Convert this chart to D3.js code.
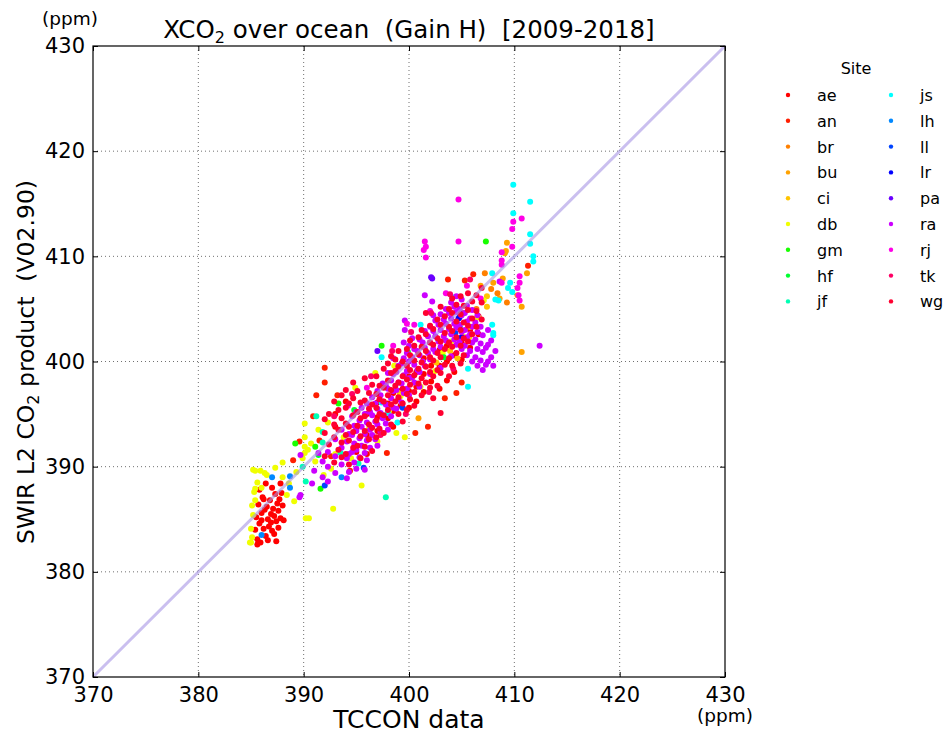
<!DOCTYPE html>
<html>
<head>
<meta charset="utf-8">
<script src="https://cdn.jsdelivr.net/npm/d3@7"></script>
<style>
  body { margin: 0; background: #fff; }
  text { font-family: "DejaVu Sans", sans-serif; fill: #000; }
</style>
</head>
<body>
<div id="chart"></div>
<script>
// site codes and their colours (legend order)
var sites = ["ae", "an", "br", "bu", "ci", "db", "gm", "hf", "jf", "js", "lh", "ll", "lr", "pa", "ra", "rj", "tk", "wg"];
var siteColors = ["#ff0000", "#ff1e00", "#ff8000", "#ffa200", "#ffc400", "#f0ff00", "#18ff00", "#00ff30", "#00ffb4", "#00ffff",
    "#0088ff", "#0044ff", "#0000ff", "#6a00ff", "#cc00ff", "#ff00e6", "#ff0064", "#ff0030"];

var xTicks = [370, 380, 390, 400, 410, 420, 430];
var yTicks = [370, 380, 390, 400, 410, 420, 430];

// [TCCON, SWIR L2] pairs
var ae = [[385.4,384.0],[385.5,385.2],[385.6,383.1],[385.7,386.4],[385.8,384.6],[385.9,382.8],[386.0,385.6],[386.1,387.1],
    [386.2,384.1],[386.3,385.9],[386.4,383.4],[386.5,386.2],[386.6,385.0],[386.7,384.3],[386.8,386.8],[386.9,385.5],
    [387.0,383.9],[387.1,386.0],[387.2,385.3],[387.3,387.4],[387.4,384.8],[387.5,386.5],[387.6,385.8],[387.7,386.9],
    [387.8,385.1],[387.9,387.5],[388.0,386.3],[388.1,384.9],[385.8,387.8],[386.4,388.4],[387.0,388.0],[386.6,383.0],
    [385.6,382.6],[387.4,382.9],[386.2,386.9],[387.8,388.4],[386.9,384.7],[387.2,383.6],[386.0,384.9],[387.6,384.2],
    [395.0,391.4],[395.0,393.6],[396.0,391.2],[396.0,393.0],[396.0,395.0],[397.0,393.4],[397.0,394.7],[397.0,396.1],
    [398.0,394.6],[398.0,396.0],[398.5,393.8],[398.5,395.3],[398.5,397.0],[399.2,395.8],[399.2,397.2],[400.0,395.6],
    [400.0,397.2],[400.0,398.6],[400.7,396.2],[400.7,397.6],[400.7,399.0],[401.4,397.1],[401.4,398.8],[401.4,400.3],
    [402.1,398.1],[402.1,399.6],[402.9,397.4],[402.9,399.6],[402.9,401.1],[403.6,398.2],[403.6,400.0],[403.6,401.5],
    [404.3,399.0],[404.3,400.6],[405.0,400.2],[405.0,401.8],[405.8,401.3],[405.8,403.0],[406.6,402.6],[406.6,404.3],
    [393.0,393.8],[393.0,395.0],[394.0,396.2]];
var an = [[392.0,399.4],[392.0,398.0],[391.2,396.8],[390.9,394.8],[391.5,392.5],[393.2,396.8],[400.6,393.2],[401.8,393.8],
    [397.9,391.3],[403.4,396.5],[404.5,397.0],[405.0,398.0],[403.7,407.8],[405.3,407.7],[406.1,408.3],[411.3,409.1],
    [389.0,390.6],[389.6,392.4],[392.6,391.0],[394.4,389.6]];
var br = [[407.2,408.4],[408.4,406.5],[409.3,405.6],[406.4,405.0],[407.8,406.9],[405.2,404.6]];
var bu = [[409.3,411.3],[409.2,410.5],[409.1,410.3],[410.7,400.9],[410.3,406.3],[410.7,405.2],[408.6,406.0],[411.2,408.4],
    [400.9,394.6],[408.0,407.5],[408.9,407.9],[406.8,407.2]];
var ci = [[407.4,406.2],[407.4,405.2],[406.6,404.2],[404.6,400.3],[402.6,399.9],[405.7,402.3],[403.9,401.0],[399.1,397.0]];
var db = [[385.0,382.8],[385.1,383.3],[385.0,384.1],[385.2,385.4],[385.1,386.3],[385.3,387.6],[385.6,388.5],[385.9,389.6],
    [386.5,389.2],[387.3,389.9],[388.0,389.0],[388.6,388.4],[389.3,389.5],[389.9,390.8],[390.4,391.6],[390.7,392.2],
    [391.1,390.5],[391.9,389.2],[392.6,389.8],[390.2,385.1],[390.5,385.1],[392.8,386.0],[388.4,387.3],[389.1,386.7],
    [391.4,393.5],[392.3,394.2],[393.0,391.2],[393.8,392.8],[394.5,390.8],[395.5,388.2],[396.2,393.6],[397.0,392.4],
    [398.1,395.3],[399.2,396.7],[400.3,398.4],[401.1,397.6],[402.5,399.1],[403.2,400.8],[404.0,401.9],[405.1,402.4],
    [406.3,404.1],[407.1,405.8],[405.8,403.3],[394.9,397.5],[396.8,398.9],[398.6,399.6],[385.4,386.8],[385.2,389.7],
    [386.0,388.0],[390.1,394.1],[390.1,391.9],[390.1,392.8],[390.1,391.3],[388.0,390.4],[385.4,389.6],[386.3,389.4],
    [385.4,387.9],[399.6,392.8],[398.8,393.2],[384.9,382.8]];
var gm = [[407.3,411.4],[389.2,392.2],[391.1,391.9],[391.6,387.9],[393.3,396.0],[397.4,401.5]];
var hf = [[403.3,400.4],[391.4,391.1],[394.8,395.4],[399.9,400.9]];
var jf = [[397.8,387.1],[390.2,388.6],[389.9,390.0],[391.2,394.8],[391.8,393.3],[391.8,392.3],[393.5,391.3],[395.2,390.3]];
var js = [[409.9,416.8],[411.5,415.2],[409.9,414.1],[411.5,412.1],[411.5,411.2],[411.8,410.0],[411.8,409.5],[407.9,408.4],
    [409.6,407.5],[409.4,407.0],[408.5,405.8],[408.2,405.9],[409.8,406.6],[408.0,402.7],[405.6,399.3],[405.6,397.6],
    [401.1,403.5],[404.1,406.1],[407.9,403.5],[408.0,402.5],[397.4,400.4],[397.4,396.1],[398.0,395.1],[398.9,394.2]];
var lh = [[387.0,389.0],[388.7,389.1],[388.7,388.0],[386.0,383.5],[393.6,389.0]];
var ll = [[392.0,388.2],[395.7,389.9],[399.4,395.6],[404.4,402.7]];
var lr = [[404.8,404.2],[404.8,403.3],[405.0,402.3],[404.7,404.1],[404.8,404.7]];
var pa = [[397.0,401.0],[402.1,408.0],[402.2,407.9]];
var ra = [[391.8,389.0],[391.8,390.5],[392.3,388.6],[392.3,390.0],[392.3,391.4],[393.0,389.4],[393.0,391.0],[393.0,392.6],
    [393.6,390.2],[393.6,391.8],[393.6,393.5],[394.1,388.9],[394.1,390.8],[394.1,392.4],[394.1,394.0],[394.6,391.4],
    [394.6,393.0],[394.6,394.8],[395.0,389.8],[395.0,391.6],[395.0,393.4],[395.0,395.2],[395.5,392.0],[395.5,393.8],
    [395.5,395.6],[396.0,390.6],[396.0,392.5],[396.0,394.2],[396.0,396.0],[396.5,393.0],[396.5,394.9],[396.5,396.6],
    [397.0,394.0],[397.0,395.5],[397.0,397.2],[397.0,392.0],[397.5,394.6],[397.5,396.2],[397.5,397.9],[398.0,393.5],
    [398.0,395.8],[398.0,397.4],[398.0,398.9],[398.5,395.6],[398.5,397.2],[398.5,398.8],[398.5,400.3],[399.0,396.4],
    [399.0,398.0],[399.0,399.6],[399.5,397.0],[399.5,398.7],[399.5,400.3],[399.5,401.8],[400.0,396.8],[400.0,398.4],
    [400.0,400.0],[400.0,401.5],[400.5,398.0],[400.5,399.7],[400.5,401.2],[401.0,399.0],[401.0,400.6],[401.0,402.1],
    [401.0,397.6],[401.5,399.6],[401.5,401.3],[401.5,402.9],[402.0,400.2],[402.0,401.8],[402.0,403.3],[402.0,398.8],
    [402.5,400.9],[402.5,402.4],[402.5,403.9],[403.0,401.4],[403.0,403.0],[403.0,404.5],[403.0,399.4],[403.5,402.0],
    [403.5,403.6],[403.5,405.0],[404.0,402.6],[404.0,404.1],[404.0,405.6],[404.0,400.5],[404.5,401.6],[404.5,403.2],
    [404.5,404.7],[404.5,406.2],[405.0,401.2],[405.0,402.8],[405.0,404.4],[405.0,405.9],[405.5,400.6],[405.5,402.3],
    [405.5,403.8],[405.5,405.3],[406.0,400.0],[406.0,401.8],[406.0,403.3],[406.0,404.9],[406.5,399.6],[406.5,401.2],
    [406.5,402.8],[406.5,404.4],[407.0,399.2],[407.0,400.9],[407.0,402.5],[407.5,400.0],[407.5,401.6],[407.5,403.0],
    [399.6,403.9],[399.6,403.0],[401.5,406.3],[402.2,405.7],[412.4,401.5],[389.7,387.3],[389.7,391.1],[390.8,388.4],
    [391.0,389.6],[391.4,391.3],[389.6,387.1],[408.6,407.6],[408.2,401.0],[408.0,399.6],
    [394.3,389.5],[394.3,391.2],[394.3,393.1],[394.8,390.4],[394.8,392.2],[394.8,393.9],[395.3,390.9],[395.3,392.7],
    [395.3,394.4],[395.8,389.7],[395.8,391.3],[395.8,393.1],[395.8,395.0],[396.3,391.8],[396.3,393.5],[396.3,395.2],
    [396.8,392.6],[396.8,394.3],[396.8,396.0],[397.3,393.3],[397.3,395.1],[397.3,396.8],[397.8,394.1],[397.8,395.9],
    [397.8,397.7],[398.3,394.8],[398.3,396.5],[398.3,398.2],[398.8,395.5],[398.8,397.3],[398.8,399.0],[399.3,396.1],
    [399.3,397.9],[399.3,399.8],[399.8,397.4],[399.8,399.1],[399.8,400.8],[400.3,398.5],[400.3,400.4],[400.3,402.2],
    [400.8,399.2],[400.8,401.0],[401.3,400.0],[401.3,401.8],[401.8,400.8],[401.8,402.4],[402.3,401.2],[402.3,402.9],
    [402.3,404.4],[402.8,401.9],[402.8,403.5],[403.3,402.4],[403.3,404.0],[403.8,403.1],[403.8,404.6],[404.3,402.1],
    [404.3,403.6],[404.3,405.2],[404.8,401.9],[404.8,403.5],[404.8,405.0],[405.3,401.5],[405.3,403.0],[405.3,404.6],
    [405.8,401.0],[405.8,402.6],[405.8,404.1],[406.3,400.4],[406.3,402.1],[406.3,403.7],[406.8,400.1],[406.8,401.7],
    [406.8,403.3],[407.3,399.7],[407.3,401.3],[407.8,400.4],[407.8,402.0]];
var rj = [[404.7,415.4],[401.5,411.4],[401.6,410.9],[401.4,410.6],[401.6,409.9],[404.7,411.4],[410.7,413.6],[409.9,413.3],
    [409.8,412.6],[409.8,410.9],[408.8,410.4],[410.5,408.1],[410.5,407.5],[410.3,407.0],[410.4,406.3],[410.5,405.8],
    [408.8,407.5],[408.8,409.6],[408.8,409.2],[396.0,397.5],[398.5,401.5],[400.5,403.5],[402.0,404.8],[403.5,406.5],
    [405.5,407.2],[406.8,406.0],[399.8,403.6],[394.2,395.8]];
var tk = [[392.9,394.8],[394.6,396.9],[396.4,398.6],[398.4,401.0],[400.2,402.8],[402.1,404.6],[403.9,406.4],[405.8,407.8],
    [397.3,393.0],[399.7,395.0],[401.9,397.1],[404.2,399.3]];
var wg = [[392.0,391.0],[392.0,393.2],[392.0,394.5],[392.4,392.1],[392.4,395.0],[392.9,390.4],[392.9,392.8],[392.9,394.0],
    [392.9,396.2],[393.3,391.6],[393.3,393.5],[393.3,395.4],[393.6,392.3],[393.6,394.6],[393.6,396.8],[393.6,390.9],
    [394.0,391.2],[394.0,393.0],[394.0,394.1],[394.0,395.6],[394.0,397.3],[394.3,390.2],[394.3,392.5],[394.3,393.8],
    [394.3,396.0],[394.7,391.8],[394.7,393.3],[394.7,394.9],[394.7,396.5],[394.7,398.0],[395.1,392.0],[395.1,393.9],
    [395.1,395.2],[395.1,397.2],[395.4,390.8],[395.4,392.9],[395.4,394.6],[395.4,396.1],[395.8,393.4],[395.8,394.8],
    [395.8,396.3],[395.8,398.4],[395.8,391.9],[396.2,392.6],[396.2,394.0],[396.2,395.5],[396.2,397.0],[396.5,391.5],
    [396.5,393.7],[396.5,395.9],[396.5,397.8],[396.9,394.4],[396.9,395.6],[396.9,396.9],[396.9,398.6],[396.9,392.8],
    [397.2,393.6],[397.2,395.0],[397.2,396.4],[397.2,397.7],[397.6,394.9],[397.6,396.2],[397.6,397.5],[397.6,399.3],
    [397.6,393.2],[398.0,395.4],[398.0,396.8],[398.0,398.2],[398.0,399.8],[398.3,394.0],[398.3,395.9],[398.3,397.3],
    [398.3,398.9],[398.3,400.5],[398.7,396.2],[398.7,397.7],[398.7,399.1],[398.7,400.2],[399.0,395.0],[399.0,396.6],
    [399.0,398.0],[399.0,399.5],[399.0,401.0],[399.4,396.0],[399.4,397.4],[399.4,398.6],[399.4,400.0],[399.4,394.3],
    [399.8,396.9],[399.8,398.3],[399.8,399.6],[399.8,401.2],[399.8,395.4],[400.1,396.4],[400.1,397.8],[400.1,399.2],
    [400.1,400.6],[400.1,402.0],[400.5,397.1],[400.5,398.7],[400.5,400.1],[400.5,401.5],[400.5,395.8],[400.9,397.9],
    [400.9,399.3],[400.9,400.7],[400.9,402.3],[401.2,396.8],[401.2,398.4],[401.2,399.9],[401.2,401.4],[401.2,403.0],
    [401.6,398.0],[401.6,399.5],[401.6,401.0],[401.6,402.6],[401.6,404.6],[402.0,397.5],[402.0,399.0],[402.0,400.4],
    [402.0,401.8],[402.0,403.4],[402.3,398.6],[402.3,400.1],[402.3,401.6],[402.3,403.1],[402.3,396.5],[402.7,399.2],
    [402.7,400.8],[402.7,402.2],[402.7,404.0],[402.7,397.7],[403.0,398.9],[403.0,400.4],[403.0,401.9],[403.0,403.5],
    [403.0,405.2],[403.0,395.1],[403.4,399.7],[403.4,401.2],[403.4,402.7],[403.4,404.3],[403.8,400.3],[403.8,401.8],
    [403.8,403.3],[403.8,405.0],[403.8,398.6],[404.1,399.6],[404.1,401.4],[404.1,402.9],[404.1,404.6],[404.1,406.0],
    [404.5,400.8],[404.5,402.3],[404.5,403.8],[404.5,405.4],[404.9,401.5],[404.9,403.0],[404.9,404.5],[404.9,406.2],
    [404.9,399.8],[405.2,400.6],[405.2,402.2],[405.2,403.7],[405.2,405.3],[405.6,401.9],[405.6,403.4],[405.6,404.9],
    [405.6,406.5],[406.0,402.6],[406.0,404.1],[406.0,405.7],[406.4,403.3],[406.4,404.8],[406.4,406.3],[406.9,404.0],
    [406.9,405.6],[406.9,407.0]];

var siteData = [ae, an, br, bu, ci, db, gm, hf, jf, js, lh, ll, lr, pa, ra, rj, tk, wg];

var margin = { top: 46, left: 93 },
    width = 632,
    height = 631;

var svg = d3.select("#chart")
    .append("svg")
    .attr("width", 948)
    .attr("height", 736);

var g = svg.append("g")
    .attr("transform", "translate(" + margin.left + "," + margin.top + ")");

var x = d3.scaleLinear().domain([370, 430]).range([0, width]);
var y = d3.scaleLinear().domain([370, 430]).range([height, 0]);

// grid
g.selectAll(".vgrid").data(xTicks.slice(1, -1)).enter()
    .append("line")
    .attr("x1", function (d) { return x(d); })
    .attr("x2", function (d) { return x(d); })
    .attr("y1", 0).attr("y2", height)
    .attr("stroke", "#000").attr("stroke-width", 0.8)
    .attr("stroke-dasharray", "1,3").attr("opacity", 0.7);
g.selectAll(".hgrid").data(yTicks.slice(1, -1)).enter()
    .append("line")
    .attr("y1", function (d) { return y(d); })
    .attr("y2", function (d) { return y(d); })
    .attr("x1", 0).attr("x2", width)
    .attr("stroke", "#000").attr("stroke-width", 0.8)
    .attr("stroke-dasharray", "1,3").attr("opacity", 0.7);

// points, one group per site
siteData.forEach(function (pts, i) {
    g.append("g").selectAll("circle").data(pts).enter()
        .append("circle")
        .attr("cx", function (d) { return x(d[0]); })
        .attr("cy", function (d) { return y(d[1]); })
        .attr("r", 3)
        .attr("fill", siteColors[i]);
});

// 1:1 line
g.append("line")
    .attr("x1", x(370)).attr("y1", y(370))
    .attr("x2", x(430)).attr("y2", y(430))
    .attr("stroke", "#a896e6").attr("stroke-width", 3)
    .attr("opacity", 0.6);

// axes (inward ticks on all sides)
var tickFont = "21px";
g.append("g").attr("transform", "translate(0," + height + ")")
    .call(d3.axisBottom(x).tickValues(xTicks).tickSize(-5).tickPadding(10).tickFormat(d3.format("d")))
    .call(function (a) { a.select(".domain").remove(); a.selectAll("text").style("font-size", tickFont); });
g.append("g")
    .call(d3.axisTop(x).tickValues(xTicks).tickSize(-5).tickFormat(""))
    .call(function (a) { a.select(".domain").remove(); });
g.append("g")
    .call(d3.axisLeft(y).tickValues(yTicks).tickSize(-5).tickPadding(8).tickFormat(d3.format("d")))
    .call(function (a) { a.select(".domain").remove(); a.selectAll("text").style("font-size", tickFont); });
g.append("g").attr("transform", "translate(" + width + ",0)")
    .call(d3.axisRight(y).tickValues(yTicks).tickSize(-5).tickFormat(""))
    .call(function (a) { a.select(".domain").remove(); });
g.selectAll(".tick text").attr("font-family", "DejaVu Sans, sans-serif").attr("fill", "#000");

g.append("rect")
    .attr("width", width).attr("height", height)
    .attr("fill", "none").attr("stroke", "#000").attr("stroke-width", 1.2);

// title and labels
var title = svg.append("text")
    .attr("x", margin.left + width / 2).attr("y", 38)
    .attr("text-anchor", "middle")
    .style("font-size", "24.5px");
title.append("tspan").text("XCO");
title.append("tspan").attr("dy", 5).style("font-size", "16px").text("2");
title.append("tspan").attr("dy", -5).text(" over ocean \u00a0(Gain H) \u00a0[2009-2018]");

var ylab = svg.append("text")
    .attr("transform", "translate(34," + 362 + ") rotate(-90)")
    .attr("text-anchor", "middle")
    .style("font-size", "23.5px");
ylab.append("tspan").text("SWIR L2 CO");
ylab.append("tspan").attr("dy", 5).style("font-size", "16px").text("2");
ylab.append("tspan").attr("dy", -5).text(" product \u00a0(V02.90)");

svg.append("text")
    .attr("x", margin.left + width / 2).attr("y", 728)
    .attr("text-anchor", "middle")
    .style("font-size", "25px")
    .text("TCCON data");

svg.append("text")
    .attr("x", 70).attr("y", 25)
    .attr("text-anchor", "middle")
    .style("font-size", "18.5px")
    .text("(ppm)");
svg.append("text")
    .attr("x", 725).attr("y", 722)
    .attr("text-anchor", "middle")
    .style("font-size", "18.5px")
    .text("(ppm)");

// legend
var legend = svg.append("g");
legend.append("text")
    .attr("x", 856).attr("y", 74)
    .attr("text-anchor", "middle")
    .style("font-size", "16px")
    .text("Site");
sites.forEach(function (s, i) {
    var col = Math.floor(i / 9), row = i % 9;
    var lx = 788 + col * 103, ly = 95 + row * 25.8;
    legend.append("circle")
        .attr("cx", lx).attr("cy", ly).attr("r", 2.2)
        .attr("fill", siteColors[i]);
    legend.append("text")
        .attr("x", lx + 29).attr("y", ly + 6)
        .style("font-size", "16px")
        .text(s);
});
</script>
</body>
</html>
